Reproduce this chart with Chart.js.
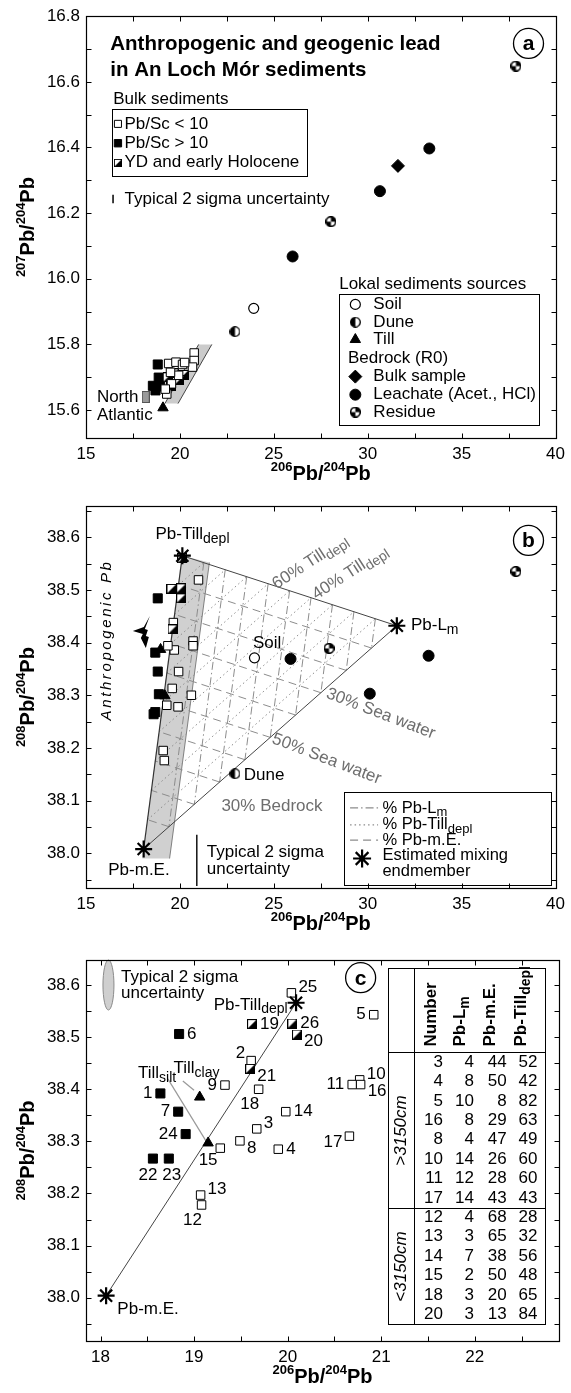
<!DOCTYPE html>
<html>
<head>
<meta charset="utf-8">
<script src="https://cdn.jsdelivr.net/npm/chart.js@4.4.1/dist/chart.umd.min.js"></script>
<style>
  html, body { margin: 0; padding: 0; background: #fff; }
  body { width: 571px; height: 1393px; position: relative; overflow: hidden; }
  canvas { position: absolute; left: 0; }
</style>
</head>
<body>
<canvas id="panelA" width="571" height="490" style="top:0px"></canvas>
<canvas id="panelB" width="571" height="450" style="top:490px"></canvas>
<canvas id="panelC" width="571" height="453" style="top:940px"></canvas>
<script>
const FONT = '"Liberation Sans", Arial, Helvetica, sans-serif';

// ---------- panel a : 207Pb/204Pb vs 206Pb/204Pb ----------
const aOpenX   = [19.40, 19.79, 20.14, 20.76, 20.76, 20.67, 19.55, 19.30, 19.22, 19.93, 20.25, 19.50];
const aOpenY   = [15.742, 15.746, 15.739, 15.774, 15.751, 15.731, 15.680, 15.649, 15.664, 15.706, 15.745, 15.715];
const aFilledX = [18.82, 18.87, 18.56, 18.95, 18.70];
const aFilledY = [15.739, 15.699, 15.674, 15.672, 15.660];
const aHalfX   = [19.70, 20.20, 19.55, 19.97, 19.35];
const aHalfY   = [15.712, 15.707, 15.673, 15.692, 15.700];
const aSoilX = [23.93], aSoilY = [15.910];
const aDuneX = [22.93], aDuneY = [15.839];
const aTillX = [19.10], aTillY = [15.607];
const aBulkX = [31.61], aBulkY = [16.344];
const aLeachX = [26.00, 30.65, 33.28], aLeachY = [16.068, 16.267, 16.397];
const aResX = [28.04, 37.89], aResY = [16.174, 16.648];
const aAtlX = [18.18], aAtlY = [15.640];
const aBandX = [19.20, 19.90, 21.70, 21.00];
const aBandY = [15.620, 15.620, 15.800, 15.800];

// ---------- panel b : 208Pb/204Pb vs 206Pb/204Pb ----------
const bOpenX   = [20.99, 19.65, 20.70, 20.70, 19.70, 19.36, 19.93, 19.59, 19.30, 19.90, 20.61, 19.11, 19.17];
const bOpenY   = [38.519, 38.438, 38.403, 38.394, 38.386, 38.394, 38.345, 38.313, 38.281, 38.278, 38.300, 38.195, 38.176];
const bFilledX = [18.82, 18.69, 18.82, 18.88, 18.69, 18.60];
const bFilledY = [38.484, 38.381, 38.345, 38.302, 38.268, 38.264];
const bHalfX   = [20.13, 19.55, 20.07, 20.07, 19.61];
const bHalfY   = [38.560, 38.502, 38.503, 38.484, 38.425];
const bTillX = [18.97, 19.20], bTillY = [38.387, 38.299];
const bSoilX = [23.97], bSoilY = [38.371];
const bDuneX = [22.93], bDuneY = [38.151];
const bLeachX = [25.89, 33.24, 30.11], bLeachY = [38.369, 38.375, 38.303];
const bResX = [27.94, 37.89], bResY = [38.389, 38.535];
const endNames = ['Lm', 'Till', 'mE'];
const endX = [31.55, 20.13, 18.07];
const endY = [38.432, 38.565, 38.008];
const mixPct = [10, 20, 30, 40, 50, 60, 70, 80, 90];
const bBandX = [20.13, 21.57, 19.45, 18.00];
const bBandY = [38.565, 38.552, 37.990, 37.990];

// ---------- panel c : zoom of panel b ----------
const cOpenX   = [20.04, 19.61, 19.33, 19.69, 19.98, 19.67, 20.66, 20.92, 20.77, 20.69, 20.78, 19.49, 19.90, 19.07, 19.08, 19.28];
const cOpenY   = [38.585, 38.455, 38.408, 38.400, 38.357, 38.324, 38.310, 38.543, 38.418, 38.409, 38.409, 38.301, 38.285, 38.197, 38.178, 38.287];
const cOpenLab = ['25', '2', '9', '18', '14', '3', '17', '5', '10', '11', '16', '8', '4', '13', '12', ''];
const cOpenPos = ['tr', 'tl', 'l', 'bl', 'r', 'tr', 'bl2', 'l', 'tr', 'l', 'br', 'br', 'r', 'tr', 'bl', ''];
const cFilledX = [18.84, 18.64, 18.83, 18.91, 18.56, 18.73];
const cFilledY = [38.506, 38.392, 38.357, 38.314, 38.267, 38.267];
const cFilledLab = ['6', '1', '7', '24', '22', '23'];
const cFilledPos = ['r', 'l', 'l', 'l', 'bL', 'bR'];
const cHalfX = [19.62, 20.05, 20.10, 19.60];
const cHalfY = [38.525, 38.526, 38.505, 38.439];
const cHalfLab = ['19', '26', '20', '21'];
const cHalfPos = ['r', 'r', 'br', 'br'];
const cTillX = [19.06, 19.15], cTillY = [38.385, 38.297];
const cTillLab = ['', '15'], cTillPos = ['', 'b'];
const cEndX = [20.09, 18.06], cEndY = [38.566, 38.004];

// table of mixing proportions
const tblHead  = ['Number', 'Pb-L_{m}', 'Pb-m.E.', 'Pb-Till_{depl}'];
const tblGroup = ['>3150cm', '<3150cm'];
const tblRows  = [8, 6];
const tblNum   = [3, 4, 5, 16, 8, 10, 11, 17, 12, 13, 14, 15, 18, 20];
const tblLm    = [4, 8, 10, 8, 4, 14, 12, 14, 4, 3, 7, 2, 3, 3];
const tblME    = [44, 50, 8, 29, 47, 26, 28, 43, 68, 65, 38, 50, 20, 13];
const tblTill  = [52, 42, 82, 63, 49, 60, 60, 43, 28, 32, 56, 48, 65, 84];

// ---------- marker icons ----------
function icon(w, h, paint) {
  const c = document.createElement('canvas');
  c.width = w; c.height = h;
  paint(c.getContext('2d'), w, h);
  return c;
}
const halfSquare = icon(10, 10, (g, w, h) => {
  g.fillStyle = '#fff'; g.fillRect(0, 0, w, h);
  g.fillStyle = '#000'; g.beginPath(); g.moveTo(w, 0); g.lineTo(w, h); g.lineTo(0, h); g.closePath(); g.fill();
  g.strokeStyle = '#000'; g.lineWidth = 1; g.strokeRect(0.5, 0.5, w - 1, h - 1);
});
const halfCircle = icon(11, 11, (g, w) => {
  const r = w / 2 - 0.7, c = w / 2;
  g.fillStyle = '#fff'; g.beginPath(); g.arc(c, c, r, 0, 2 * Math.PI); g.fill();
  g.fillStyle = '#000'; g.beginPath(); g.moveTo(c, c); g.arc(c, c, r, Math.PI / 2, Math.PI * 1.5); g.closePath(); g.fill();
  g.lineWidth = 1.3; g.beginPath(); g.arc(c, c, r, 0, 2 * Math.PI); g.stroke();
});
const quarterCircle = icon(11, 11, (g, w) => {
  const r = w / 2 - 0.7, c = w / 2;
  g.fillStyle = '#fff'; g.beginPath(); g.arc(c, c, r, 0, 2 * Math.PI); g.fill();
  g.fillStyle = '#000';
  g.beginPath(); g.moveTo(c, c); g.arc(c, c, r, -Math.PI / 2, 0); g.closePath(); g.fill();
  g.beginPath(); g.moveTo(c, c); g.arc(c, c, r, Math.PI / 2, Math.PI); g.closePath(); g.fill();
  g.lineWidth = 1.6; g.beginPath(); g.arc(c, c, r, 0, 2 * Math.PI); g.stroke();
});
const grayRect = icon(8, 12, (g, w, h) => {
  g.fillStyle = '#9a9a9a'; g.fillRect(0, 0, w, h);
  g.strokeStyle = '#555'; g.lineWidth = 1; g.strokeRect(0.5, 0.5, w - 1, h - 1);
});

const ST = {
  open:   { pointStyle: 'rect', pointRadius: 6, backgroundColor: '#fff', borderColor: '#000', borderWidth: 1 },
  filled: { pointStyle: 'rect', pointRadius: 6.4, backgroundColor: '#000', borderColor: '#000', borderWidth: 1 },
  half:   { pointStyle: halfSquare, pointRadius: 5 },
  till:   { pointStyle: 'triangle', pointRadius: 6, backgroundColor: '#000', borderColor: '#000', borderWidth: 1 },
  soil:   { pointStyle: 'circle', pointRadius: 5, backgroundColor: '#fff', borderColor: '#000', borderWidth: 1.2 },
  dune:   { pointStyle: halfCircle, pointRadius: 5 },
  leach:  { pointStyle: 'circle', pointRadius: 5.5, backgroundColor: '#000', borderColor: '#000', borderWidth: 1 },
  resid:  { pointStyle: quarterCircle, pointRadius: 5 },
  bulk:   { pointStyle: 'rectRot', pointRadius: 6.5, backgroundColor: '#000', borderColor: '#000', borderWidth: 1 },
  atl:    { pointStyle: grayRect, pointRadius: 5 },
  star:   { pointStyle: 'star', pointRadius: 8.5, backgroundColor: '#000', borderColor: '#000', borderWidth: 2.2 }
};

function pts(xs, ys, style) {
  return Object.assign({ data: xs.map((x, i) => ({ x: x, y: ys[i] })) }, style);
}

// ---------- drawing helpers ----------
function parseRich(s) {
  const out = [], re = /([_^])\{([^}]*)\}/g;
  let last = 0, m;
  while ((m = re.exec(s))) {
    if (m.index > last) out.push({ t: s.slice(last, m.index), k: 0 });
    out.push({ t: m[2], k: m[1] === '_' ? -1 : 1 });
    last = re.lastIndex;
  }
  if (last < s.length) out.push({ t: s.slice(last), k: 0 });
  return out;
}

function label(ctx, s, x, y, o = {}) {
  const size = o.size || 17;
  const segs = parseRich(s);
  const f = k => (o.italic ? 'italic ' : '') + (o.bold ? 'bold ' : '') +
    (k > 0 ? Math.round(size * 0.66) : k < 0 ? Math.round(size * 0.8) : size) + 'px ' + FONT;
  const sp = o.spacing || 0;
  ctx.save();
  ctx.translate(x, y);
  if (o.rot) ctx.rotate(o.rot * Math.PI / 180);
  let w = 0;
  segs.forEach(g => { ctx.font = f(g.k); g.w = ctx.measureText(g.t).width + sp * g.t.length; w += g.w; });
  let cx = o.align === 'center' ? -w / 2 : o.align === 'right' ? -w : 0;
  ctx.fillStyle = o.color || '#000';
  ctx.textBaseline = 'middle';
  ctx.textAlign = 'left';
  segs.forEach(g => {
    ctx.font = f(g.k);
    const dy = g.k > 0 ? -size * 0.34 : g.k < 0 ? size * 0.28 : 0;
    if (sp) {
      for (const ch of g.t) { ctx.fillText(ch, cx, dy); cx += ctx.measureText(ch).width + sp; }
    } else {
      ctx.fillText(g.t, cx, dy); cx += g.w;
    }
  });
  ctx.restore();
}

function P(chart, x, y) {
  return [chart.scales.x.getPixelForValue(x), chart.scales.y.getPixelForValue(y)];
}

function marker(ctx, st, x, y, r) {
  ctx.save();
  ctx.fillStyle = st.backgroundColor || '#000';
  ctx.strokeStyle = st.borderColor || '#000';
  ctx.lineWidth = st.borderWidth || 1;
  Chart.helpers.drawPoint(ctx, { pointStyle: st.pointStyle, radius: r || st.pointRadius, borderWidth: st.borderWidth || 1, rotation: 0 }, x, y);
  ctx.restore();
}

function line(ctx, chart, x1, y1, x2, y2, color, width, dash) {
  const a = P(chart, x1, y1), b = P(chart, x2, y2);
  ctx.save();
  ctx.strokeStyle = color; ctx.lineWidth = width; ctx.setLineDash(dash || []);
  ctx.beginPath(); ctx.moveTo(a[0], a[1]); ctx.lineTo(b[0], b[1]); ctx.stroke();
  ctx.restore();
}

function polygon(ctx, chart, xs, ys, fill) {
  ctx.save();
  ctx.beginPath();
  xs.forEach((x, i) => { const p = P(chart, x, ys[i]); i ? ctx.lineTo(p[0], p[1]) : ctx.moveTo(p[0], p[1]); });
  ctx.closePath();
  ctx.fillStyle = fill; ctx.fill();
  ctx.restore();
}

function boxAt(ctx, chart, x1, y1, x2, y2) {
  const a = P(chart, x1, y1), b = P(chart, x2, y2);
  ctx.save();
  ctx.strokeStyle = '#000'; ctx.lineWidth = 1;
  ctx.strokeRect(Math.round(a[0]) + 0.5, Math.round(a[1]) + 0.5, Math.round(b[0] - a[0]), Math.round(b[1] - a[1]));
  ctx.restore();
}

function panelTag(ctx, chart, x, y, s) {
  const p = P(chart, x, y);
  ctx.save();
  ctx.strokeStyle = '#000'; ctx.lineWidth = 1.3;
  ctx.beginPath(); ctx.arc(p[0], p[1], 15, 0, 2 * Math.PI); ctx.stroke();
  ctx.restore();
  label(ctx, s, p[0], p[1] + 1, { size: 21, bold: true, align: 'center' });
}

function onStep(v, m) { return Math.abs(v / m - Math.round(v / m)) < 1e-4; }

// frame, inward ticks on all four sides, axis titles
function framePlugin(xTitle, yTitle) {
  return {
    id: 'frame',
    afterDatasetsDraw(chart) {
      const { ctx, chartArea: a, scales: { x, y } } = chart;
      const L = Math.round(a.left) + 0.5, R = Math.round(a.right) + 0.5;
      const T = Math.round(a.top) + 0.5, B = Math.round(a.bottom) + 0.5;
      ctx.save();
      ctx.strokeStyle = '#000'; ctx.lineWidth = 1.2;
      ctx.strokeRect(L, T, R - L, B - T);
      ctx.lineWidth = 1;
      ctx.beginPath();
      x.ticks.forEach(t => {
        const p = Math.round(x.getPixelForValue(t.value)) + 0.5;
        ctx.moveTo(p, B); ctx.lineTo(p, B - 5);
        ctx.moveTo(p, T); ctx.lineTo(p, T + 5);
      });
      y.ticks.forEach(t => {
        const p = Math.round(y.getPixelForValue(t.value)) + 0.5;
        ctx.moveTo(L, p); ctx.lineTo(L + 5, p);
        ctx.moveTo(R, p); ctx.lineTo(R - 5, p);
      });
      ctx.stroke();
      ctx.restore();
      label(ctx, xTitle, (a.left + a.right) / 2, a.bottom + 36, { size: 20, bold: true, align: 'center' });
      label(ctx, yTitle, 28, (a.top + a.bottom) / 2, { size: 20, bold: true, align: 'center', rot: -90 });
    }
  };
}

function makeChart(id, datasets, xr, yr, pad, plugins) {
  return new Chart(document.getElementById(id), {
    type: 'scatter',
    data: { datasets: datasets },
    options: {
      responsive: false, animation: false, devicePixelRatio: 1, events: [],
      layout: { padding: { top: pad, right: 12, left: 0, bottom: 0 } },
      plugins: { legend: { display: false }, tooltip: { enabled: false } },
      scales: {
        x: {
          type: 'linear', min: xr[0], max: xr[1],
          afterFit: s => { s.height = 52; },
          grid: { display: false, drawTicks: false }, border: { display: false },
          ticks: {
            stepSize: xr[2], includeBounds: false, autoSkip: false, maxRotation: 0, padding: 6,
            color: '#000', font: { size: 17, family: FONT },
            callback: v => onStep(v, xr[3]) ? v.toFixed(xr[4]) : ''
          }
        },
        y: {
          type: 'linear', min: yr[0], max: yr[1],
          afterFit: s => { s.width = 86; },
          grid: { display: false, drawTicks: false }, border: { display: false },
          ticks: {
            stepSize: yr[2], includeBounds: false, autoSkip: false, padding: 6,
            color: '#000', font: { size: 17, family: FONT },
            callback: v => onStep(v, yr[3]) ? v.toFixed(yr[4]) : ''
          }
        }
      }
    },
    plugins: plugins
  });
}

// ================= panel a =================
const decoA = {
  id: 'decoA',
  beforeDatasetsDraw(chart) {
    const ctx = chart.ctx;
    polygon(ctx, chart, aBandX, aBandY, '#cbcbcb');
    line(ctx, chart, aBandX[0], aBandY[0], aBandX[3], aBandY[3], '#333', 0.9);
    line(ctx, chart, aBandX[1], aBandY[1], aBandX[2], aBandY[2], '#333', 0.9);
  },
  afterDatasetsDraw(chart) {
    const ctx = chart.ctx;
    let p;
    p = P(chart, 16.29, 16.713); label(ctx, 'Anthropogenic and geogenic lead', p[0], p[1], { size: 20.5, bold: true });
    p = P(chart, 16.29, 16.636); label(ctx, 'in An Loch Mór sediments', p[0], p[1], { size: 20.5, bold: true });
    p = P(chart, 16.45, 16.547); label(ctx, 'Bulk sediments', p[0], p[1], { size: 17 });
    boxAt(ctx, chart, 16.38, 16.518, 26.75, 16.315);
    const items = [[ST.open, 'Pb/Sc < 10', 16.472, 5], [ST.filled, 'Pb/Sc > 10', 16.413, 5.2], [ST.half, 'YD and early Holocene', 16.354, 0]];
    items.forEach(it => {
      const m = P(chart, 16.70, it[2]);
      if (it[0] === ST.half) {
        ctx.drawImage(halfSquare, Math.round(m[0] - 4), Math.round(m[1] - 4), 8, 8);
      } else {
        marker(ctx, it[0], m[0], m[1], it[3]);
      }
      const t = P(chart, 17.05, it[2]); label(ctx, it[1], t[0], t[1], { size: 17 });
    });
    line(ctx, chart, 16.44, 16.256, 16.44, 16.230, '#000', 1.5);
    p = P(chart, 17.05, 16.243); label(ctx, 'Typical 2 sigma uncertainty', p[0], p[1], { size: 17 });

    p = P(chart, 28.48, 15.982); label(ctx, 'Lokal sediments sources', p[0], p[1], { size: 17 });
    boxAt(ctx, chart, 28.48, 15.955, 39.14, 15.555);
    const src = [[ST.soil, 'Soil', 15.922], [ST.dune, 'Dune', 15.868], [ST.till, 'Till', 15.815],
                 [null, 'Bedrock (R0)', 15.757], [ST.bulk, 'Bulk sample', 15.702],
                 [ST.leach, 'Leachate (Acet., HCl)', 15.647], [ST.resid, 'Residue', 15.594]];
    src.forEach(it => {
      if (it[0]) {
        const m = P(chart, 29.34, it[2]); marker(ctx, it[0], m[0], m[1]);
        const t = P(chart, 30.30, it[2]); label(ctx, it[1], t[0], t[1], { size: 17 });
      } else {
        const t = P(chart, 28.95, it[2]); label(ctx, it[1], t[0], t[1], { size: 17 });
      }
    });
    p = P(chart, 15.58, 15.640); label(ctx, 'North', p[0], p[1], { size: 17 });
    p = P(chart, 15.58, 15.585); label(ctx, 'Atlantic', p[0], p[1], { size: 17 });
    panelTag(ctx, chart, 38.56, 16.717, 'a');
  }
};

makeChart('panelA', [
  pts(aOpenX, aOpenY, ST.open),
  pts(aHalfX, aHalfY, ST.half),
  pts(aFilledX, aFilledY, ST.filled),
  pts(aTillX, aTillY, ST.till),
  pts(aAtlX, aAtlY, ST.atl),
  pts(aSoilX, aSoilY, ST.soil),
  pts(aDuneX, aDuneY, ST.dune),
  pts(aBulkX, aBulkY, ST.bulk),
  pts(aLeachX, aLeachY, ST.leach),
  pts(aResX, aResY, ST.resid)
], [15, 40, 2.5, 5, 0], [15.515, 16.8, 0.1, 0.2, 1], 11,
  [decoA, framePlugin('^{206}Pb/^{204}Pb', '^{207}Pb/^{204}Pb')]);

// ================= panel b =================
function mixPoint(w) { // w: weights in endNames order
  return [w[0] * endX[0] + w[1] * endX[1] + w[2] * endX[2], w[0] * endY[0] + w[1] * endY[1] + w[2] * endY[2]];
}
const mixStyle = [
  { color: '#8c8c8c', dash: [8, 3, 1.5, 3] },  // % Pb-Lm
  { color: '#8c8c8c', dash: [1.5, 3] },        // % Pb-Till depl
  { color: '#8c8c8c', dash: [8, 5] }           // % Pb-m.E.
];

const decoB = {
  id: 'decoB',
  beforeDatasetsDraw(chart) {
    const ctx = chart.ctx;
    polygon(ctx, chart, bBandX, bBandY, '#d0d0d0');
    line(ctx, chart, bBandX[1], bBandY[1], bBandX[2], bBandY[2], '#666', 0.8);
    // mixing grid, one family per endmember
    for (let e = 0; e < 3; e++) {
      const o1 = (e + 1) % 3, o2 = (e + 2) % 3;
      mixPct.forEach(k => {
        const f = k / 100;
        const w1 = [0, 0, 0], w2 = [0, 0, 0];
        w1[e] = f; w1[o1] = 1 - f;
        w2[e] = f; w2[o2] = 1 - f;
        const a = mixPoint(w1), b = mixPoint(w2);
        line(ctx, chart, a[0], a[1], b[0], b[1], mixStyle[e].color, 1, mixStyle[e].dash);
      });
    }
    // triangle edges
    line(ctx, chart, endX[1], endY[1], endX[0], endY[0], '#444', 1);
    line(ctx, chart, endX[0], endY[0], endX[2], endY[2], '#444', 1);
    line(ctx, chart, endX[2], endY[2], endX[1], endY[1], '#333', 1.2);
  },
  afterDatasetsDraw(chart) {
    const ctx = chart.ctx;
    let p;
    p = P(chart, 18.70, 38.606); label(ctx, 'Pb-Till_{depl}', p[0], p[1], { size: 17 });
    p = P(chart, 32.30, 38.432); label(ctx, 'Pb-L_{m}', p[0], p[1], { size: 17 });
    p = P(chart, 17.82, 37.968); label(ctx, 'Pb-m.E.', p[0], p[1], { size: 17, align: 'center' });
    p = P(chart, 24.64, 38.398); label(ctx, 'Soil', p[0], p[1], { size: 17, align: 'center' });
    p = P(chart, 23.40, 38.148); label(ctx, 'Dune', p[0], p[1], { size: 17 });
    p = P(chart, 26.94, 38.553); label(ctx, '60% Till_{depl}', p[0], p[1], { size: 17, align: 'center', rot: -33, color: '#6e6e6e' });
    p = P(chart, 29.06, 38.533); label(ctx, '40% Till_{depl}', p[0], p[1], { size: 17, align: 'center', rot: -33, color: '#6e6e6e' });
    p = P(chart, 30.69, 38.265); label(ctx, '30% Sea water', p[0], p[1], { size: 17, align: 'center', rot: 21, color: '#6e6e6e' });
    p = P(chart, 27.81, 38.179); label(ctx, '50% Sea water', p[0], p[1], { size: 17, align: 'center', rot: 21, color: '#6e6e6e' });
    p = P(chart, 24.90, 38.090); label(ctx, '30% Bedrock', p[0], p[1], { size: 17, align: 'center', color: '#6e6e6e' });
    p = P(chart, 16.10, 38.405); label(ctx, 'Anthropogenic Pb', p[0], p[1], { size: 15, italic: true, align: 'center', rot: -90, spacing: 2.6 });
    // bolt arrow pointing towards the anthropogenic end
    p = P(chart, 17.92, 38.42);
    const arr = [[9, -16], [3, -5], [-8, -1], [2, 2], [0, 6], [5, 16], [8, 5], [5, 4], [7, -2], [4, -3]];
    ctx.save(); ctx.fillStyle = '#000'; ctx.beginPath();
    arr.forEach((q, i) => i ? ctx.lineTo(p[0] + q[0], p[1] + q[1]) : ctx.moveTo(p[0] + q[0], p[1] + q[1]));
    ctx.closePath(); ctx.fill(); ctx.restore();
    // typical uncertainty
    line(ctx, chart, 20.90, 38.035, 20.90, 37.938, '#000', 1.4);
    p = P(chart, 21.43, 38.001); label(ctx, 'Typical 2 sigma', p[0], p[1], { size: 17 });
    p = P(chart, 21.43, 37.969); label(ctx, 'uncertainty', p[0], p[1], { size: 17 });
    // legend
    boxAt(ctx, chart, 28.73, 38.116, 39.75, 37.940);
    const rows = [['% Pb-L_{m}', 38.086, 0], ['% Pb-Till_{depl}', 38.054, 1], ['% Pb-m.E.', 38.025, 2]];
    rows.forEach(r => {
      line(ctx, chart, 29.06, r[1], 30.55, r[1], mixStyle[r[2]].color, 1.2, mixStyle[r[2]].dash);
      const t = P(chart, 30.78, r[1]); label(ctx, r[0], t[0], t[1], { size: 16.5 });
    });
    p = P(chart, 29.70, 37.990); marker(ctx, ST.star, p[0], p[1], 9);
    p = P(chart, 30.78, 37.996); label(ctx, 'Estimated mixing', p[0], p[1], { size: 16.5 });
    p = P(chart, 30.78, 37.966); label(ctx, 'endmember', p[0], p[1], { size: 16.5 });
    panelTag(ctx, chart, 38.56, 38.594, 'b');
  }
};

makeChart('panelB', [
  pts(endX, endY, ST.star),
  pts(bHalfX, bHalfY, ST.half),
  pts(bOpenX, bOpenY, ST.open),
  pts(bFilledX, bFilledY, ST.filled),
  pts(bTillX, bTillY, ST.till),
  pts(bSoilX, bSoilY, ST.soil),
  pts(bDuneX, bDuneY, ST.dune),
  pts(bLeachX, bLeachY, ST.leach),
  pts(bResX, bResY, ST.resid)
], [15, 40, 2.5, 5, 0], [37.934, 38.659, 0.05, 0.1, 1], 12,
  [decoB, framePlugin('^{206}Pb/^{204}Pb', '^{208}Pb/^{204}Pb')]);

// ================= panel c =================
const labOff = { r: [8, 0, 'left'], l: [-8, 0, 'right'], tr: [7, -6, 'left'], br: [7, 7, 'left'],
                 tl: [-6, -7, 'right'], bl: [-9, 15, 'center'], bl2: [-7, 6, 'right'],
                 b: [0, 17, 'center'], bL: [-5, 17, 'center'], bR: [3, 17, 'center'] };

function numberLabels(ctx, chart, xs, ys, labs, pos) {
  xs.forEach((x, i) => {
    if (!labs[i]) return;
    const p = P(chart, x, ys[i]), o = labOff[pos[i]];
    label(ctx, labs[i], p[0] + o[0], p[1] + o[1], { size: 17, align: o[2] });
  });
}

const decoC = {
  id: 'decoC',
  beforeDatasetsDraw(chart) {
    const ctx = chart.ctx;
    line(ctx, chart, cEndX[1], cEndY[1], cEndX[0], cEndY[0], '#444', 1);
    line(ctx, chart, 18.72, 38.420, 19.13, 38.300, '#999', 1.2);
    line(ctx, chart, 18.88, 38.416, 19.00, 38.398, '#999', 1.2);
  },
  afterDatasetsDraw(chart) {
    const ctx = chart.ctx;
    let p;
    // uncertainty ellipse
    p = P(chart, 18.085, 38.600);
    ctx.save(); ctx.fillStyle = '#cfcfcf'; ctx.strokeStyle = '#8a8a8a'; ctx.lineWidth = 1;
    ctx.beginPath(); ctx.ellipse(p[0], p[1], 5.5, 25, 0, 0, 2 * Math.PI); ctx.fill(); ctx.stroke(); ctx.restore();
    p = P(chart, 18.22, 38.614); label(ctx, 'Typical 2 sigma', p[0], p[1], { size: 17 });
    p = P(chart, 18.22, 38.585); label(ctx, 'uncertainty', p[0], p[1], { size: 17 });
    panelTag(ctx, chart, 20.78, 38.614, 'c');

    p = P(chart, 20.00, 38.562); label(ctx, 'Pb-Till_{depl}', p[0], p[1], { size: 17, align: 'right' });
    p = P(chart, 18.18, 37.978); label(ctx, 'Pb-m.E.', p[0], p[1], { size: 17 });
    p = P(chart, 18.40, 38.430); label(ctx, 'Till_{silt}', p[0], p[1], { size: 17 });
    p = P(chart, 18.78, 38.440); label(ctx, 'Till_{clay}', p[0], p[1], { size: 17 });

    numberLabels(ctx, chart, cOpenX, cOpenY, cOpenLab, cOpenPos);
    numberLabels(ctx, chart, cFilledX, cFilledY, cFilledLab, cFilledPos);
    numberLabels(ctx, chart, cHalfX, cHalfY, cHalfLab, cHalfPos);
    numberLabels(ctx, chart, cTillX, cTillY, cTillLab, cTillPos);

    // table
    const xs = chart.scales.x, ys = chart.scales.y;
    const L = Math.round(xs.getPixelForValue(21.075)) + 0.5, R = Math.round(xs.getPixelForValue(22.75)) + 0.5;
    const D = Math.round(xs.getPixelForValue(21.35)) + 0.5;
    const T = Math.round(ys.getPixelForValue(38.633)) + 0.5, H = Math.round(ys.getPixelForValue(38.471)) + 0.5;
    const rowH = 19.4;
    const G1 = Math.round(H + tblRows[0] * rowH) + 0.5, Bt = Math.round(H + (tblRows[0] + tblRows[1]) * rowH) + 0.5;
    ctx.save();
    ctx.fillStyle = '#fff'; ctx.fillRect(L, T, R - L, Bt - T);
    ctx.strokeStyle = '#000'; ctx.lineWidth = 1;
    ctx.strokeRect(L, T, R - L, Bt - T);
    ctx.beginPath();
    ctx.moveTo(D, T); ctx.lineTo(D, Bt);
    ctx.moveTo(L, H); ctx.lineTo(R, H);
    ctx.moveTo(L, G1); ctx.lineTo(R, G1);
    ctx.stroke();
    ctx.restore();
    const colR = [21.66, 21.99, 22.34, 22.67].map(v => xs.getPixelForValue(v));
    const headC = [21.54, 21.85, 22.17, 22.50].map(v => xs.getPixelForValue(v));
    tblHead.forEach((h, i) => label(ctx, h, headC[i], H - 6, { size: 17, bold: true, rot: -90 }));
    const cols = [tblNum, tblLm, tblME, tblTill];
    for (let r = 0; r < tblNum.length; r++) {
      const yc = H + (r + 0.5) * rowH;
      cols.forEach((c, j) => label(ctx, String(c[r]), colR[j], yc, { size: 17, align: 'right' }));
    }
    const gx = (L + D) / 2;
    label(ctx, tblGroup[0], gx, (H + G1) / 2, { size: 17, italic: true, align: 'center', rot: -90 });
    label(ctx, tblGroup[1], gx, (G1 + Bt) / 2, { size: 17, italic: true, align: 'center', rot: -90 });
  }
};

makeChart('panelC', [
  pts(cEndX, cEndY, ST.star),
  pts(cHalfX, cHalfY, ST.half),
  pts(cOpenX, cOpenY, ST.open),
  pts(cFilledX, cFilledY, ST.filled),
  pts(cTillX, cTillY, ST.till)
], [17.845, 22.9, 0.5, 1, 0], [37.917, 38.648, 0.05, 0.1, 1], 20,
  [decoC, framePlugin('^{206}Pb/^{204}Pb', '^{208}Pb/^{204}Pb')]);
</script>
</body>
</html>
